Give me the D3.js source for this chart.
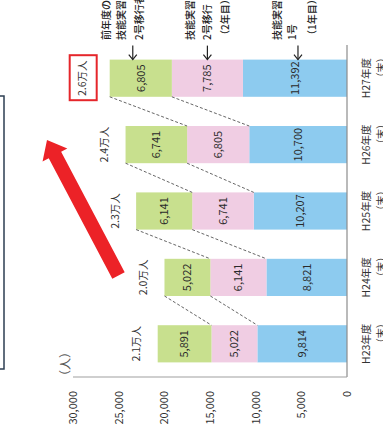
<!DOCTYPE html>
<html>
<head>
<meta charset="utf-8">
<script src="https://cdn.jsdelivr.net/npm/d3@7"></script>
<style>
  html, body { margin: 0; padding: 0; background: #fff; }
  svg { display: block; }
  text { font-family: "Noto Sans CJK JP", "Noto Sans", sans-serif; fill: #333; }
</style>
</head>
<body>
<svg id="chart" width="383" height="437"></svg>
<script>
// Fiscal years (bottom to top)
const years = ["H23年度", "H24年度", "H25年度", "H26年度", "H27年度"];
const yearSuffix = "（末）";
// 技能実習1号（1年目）
const gou1 = [9814, 8821, 10207, 10700, 11392];
// 技能実習2号移行（2年目）
const gou2 = [5022, 6141, 6741, 6805, 7785];
// 前年度の技能実習2号移行者
const prevGou2 = [5891, 5022, 6141, 6741, 6805];
// Total labels
const totalLabels = ["2.1万人", "2.0万人", "2.3万人", "2.4万人", "2.6万人"];
const highlightYear = "H27年度";
// Value axis ticks
const tickValues = [0, 5000, 10000, 15000, 20000, 25000, 30000];
const unitLabel = "（人）";
// Series captions above the latest bar
const captions = {
  prev: ["前年度の", "技能実習", "2号移行者"],
  gou2: ["技能実習", "2号移行", "（2年目）"],
  gou1: ["技能実習", "1号", "（1年目）"]
};

const colors = { gou1: "#8dcbef", gou2: "#f0cde3", prev: "#c8e08e" };

const rows = years.map((yr, i) => ({ year: yr, gou1: gou1[i], gou2: gou2[i], prev: prevGou2[i], label: totalLabels[i] }));
const keys = ["gou1", "gou2", "prev"];
const series = d3.stack().keys(keys)(rows);

const svg = d3.select("#chart");
const fmt = d3.format(",");

// The chart is laid out sideways: values run right-to-left, years bottom-to-top
const x = d3.scaleLinear().domain([0, 30000]).range([347, 73]);
const y = d3.scaleBand().domain(years.slice().reverse()).range([45, 377])
  .paddingInner(0.44).paddingOuter(0.22);

function rtext(g, cx, cy, str, opts = {}) {
  return g.append("text")
    .attr("transform", `translate(${cx},${cy}) rotate(-90)`)
    .attr("text-anchor", opts.anchor || "middle")
    .attr("dy", "0.35em")
    .style("font-size", (opts.size || 10.5) + "px")
    .style("font-weight", opts.weight || 400)
    .style("fill", opts.fill || "#333")
    .text(str);
}

// Left-hand frame
svg.append("rect").attr("x", -30).attr("y", 96).attr("width", 34).attr("height", 273)
  .attr("fill", "none").attr("stroke", "#2d3e52").attr("stroke-width", 1.5);

// Bars
const gBars = svg.append("g");
series.forEach(s => {
  gBars.selectAll(null).data(s).join("rect")
    .attr("x", d => x(d[1]))
    .attr("y", d => y(d.data.year))
    .attr("width", d => x(d[0]) - x(d[1]))
    .attr("height", y.bandwidth())
    .attr("fill", colors[s.key]);
});

// Segment values
series.forEach(s => {
  s.forEach(d => {
    const cx = (x(d[0]) + x(d[1])) / 2;
    const cy = y(d.data.year) + y.bandwidth() / 2;
    rtext(gBars, cx, cy, fmt(d.data[s.key]), { size: 11, fill: "#2a2a2a" });
  });
});

// Dashed links: previous year's 2号移行 becomes next year's 前年度分, 1号 moves to 2号
const gLinks = svg.append("g").attr("stroke", "#555").attr("stroke-width", 0.9).attr("stroke-dasharray", "3,2").attr("fill", "none");
for (let i = 0; i < rows.length - 1; i++) {
  const lo = rows[i], up = rows[i + 1];
  const upBottom = y(up.year) + y.bandwidth();
  const loTop = y(lo.year);
  gLinks.append("line")
    .attr("x1", x(up.gou1 + up.gou2 + up.prev)).attr("y1", upBottom)
    .attr("x2", x(lo.gou1 + lo.gou2)).attr("y2", loTop);
  gLinks.append("line")
    .attr("x1", x(up.gou1 + up.gou2)).attr("y1", upBottom)
    .attr("x2", x(lo.gou1)).attr("y2", loTop);
}

// Totals
rows.forEach(r => {
  const total = r.gou1 + r.gou2 + r.prev;
  const cy = y(r.year) + y.bandwidth() / 2;
  const isHl = r.year === highlightYear;
  const cx = x(total) - (isHl ? 27 : 21);
  if (isHl) {
    svg.append("rect").attr("x", cx - 13).attr("y", cy - 23).attr("width", 27).attr("height", 45)
      .attr("fill", "#fff").attr("stroke", "#e5262b").attr("stroke-width", 2);
  }
  rtext(svg, cx, cy, r.label, { size: 10.5 });
});

// Axes lines
svg.append("line").attr("x1", x(0)).attr("x2", x(0)).attr("y1", 45).attr("y2", 377)
  .attr("stroke", "#8c8c8c").attr("stroke-width", 1.2);
svg.append("line").attr("x1", x(30000)).attr("x2", x(0)).attr("y1", 377).attr("y2", 377)
  .attr("stroke", "#a0a0a0").attr("stroke-width", 1.2);

// Value tick labels
const gTicks = svg.append("g");
tickValues.forEach(v => {
  rtext(gTicks, x(v), 391, fmt(v), { anchor: "end", size: 11, fill: "#333" });
});
rtext(svg, 66, 364, unitLabel, { size: 12, fill: "#555" });

// Year labels
years.forEach(yr => {
  const cy = y(yr) + y.bandwidth() / 2;
  rtext(svg, 366, cy, yr, { size: 10.5 });
  rtext(svg, 381, y(yr) + 8, yearSuffix, { size: 10 });
});

// Captions with arrows over the latest bar
const latest = rows[rows.length - 1];
const capX = {
  prev: (x(latest.gou1 + latest.gou2) + x(latest.gou1 + latest.gou2 + latest.prev)) / 2 - 8,
  gou2: (x(latest.gou1) + x(latest.gou1 + latest.gou2)) / 2,
  gou1: (x(0) + x(latest.gou1)) / 2 + 3
};
const colOffsets = { prev: [-26, -11, 7], gou2: [-17, 0, 18], gou1: [-20, -5, 15] };
const barTop = y(latest.year);
Object.keys(capX).forEach(k => {
  const ax = capX[k];
  const g = svg.append("g").attr("stroke", "#222").attr("stroke-width", 1.2).attr("fill", "none");
  g.append("line").attr("x1", ax).attr("x2", ax).attr("y1", barTop - 14).attr("y2", barTop);
  g.append("path").attr("d", `M${ax - 4},${barTop - 5} L${ax},${barTop} L${ax + 4},${barTop - 5}`);
  captions[k].forEach((line, i) => {
    rtext(svg, ax + colOffsets[k][i], 40, line, { anchor: "start", size: 10, fill: "#222", weight: 500 });
  });
});

// Growth arrow
const tail = [118.5, 275.5], tip = [47, 140];
const ddx = tip[0] - tail[0], ddy = tip[1] - tail[1], len = Math.hypot(ddx, ddy);
const ux = ddx / len, uy = ddy / len, nx = -uy, ny = ux;
const sw = 7, hw = 14, hl = 17;
const base = [tip[0] - ux * hl, tip[1] - uy * hl];
const pts = [
  [tail[0] + nx * sw, tail[1] + ny * sw],
  [base[0] + nx * sw, base[1] + ny * sw],
  [base[0] + nx * hw, base[1] + ny * hw],
  tip,
  [base[0] - nx * hw, base[1] - ny * hw],
  [base[0] - nx * sw, base[1] - ny * sw],
  [tail[0] - nx * sw, tail[1] - ny * sw]
];
svg.append("path").attr("d", d3.line()(pts) + "Z").attr("fill", "#ec2227");
</script>
</body>
</html>
